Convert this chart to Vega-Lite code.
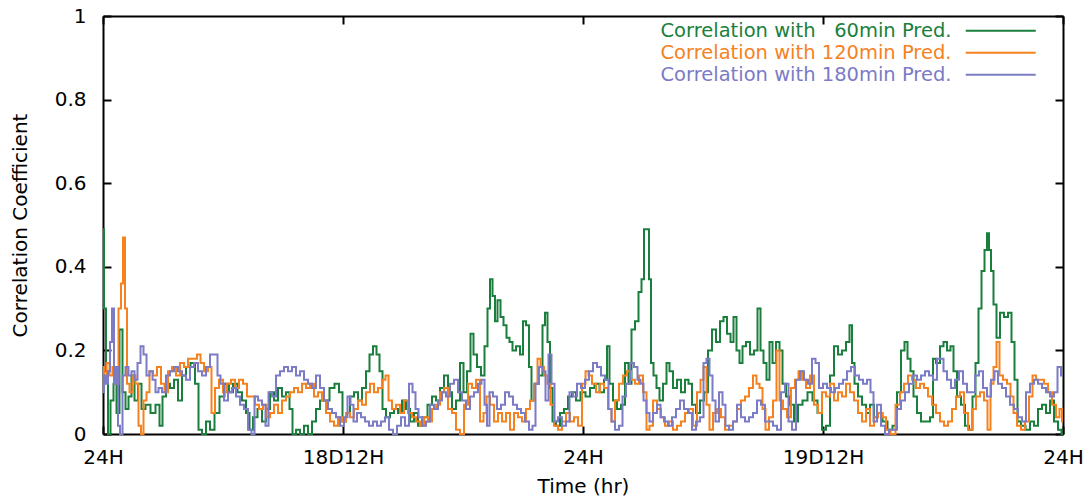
{
"$schema": "https://vega.github.io/schema/vega-lite/v6.json",
"width": 960, "height": 418,
"autosize": {"type": "none"},
"padding": {"left": 103, "top": 16, "right": 28, "bottom": 68},
"background": "white",
"config": {"view": {"stroke": null}, "font": "DejaVu Sans"},
"data": {"values": [
{"s":"a","t":0,"v":0.49},{"s":"a","t":0.1,"v":0.3},{"s":"a","t":0.2,"v":0.15},{"s":"a","t":0.3,"v":0.0},{"s":"a","t":0.45,"v":0.08},{"s":"a","t":0.6,"v":0.12},{"s":"a","t":0.75,"v":0.05},{"s":"a","t":0.9,"v":0.25},{"s":"a","t":1.05,"v":0.1},{"s":"a","t":1.2,"v":0.06},{"s":"a","t":1.35,"v":0.09},{"s":"a","t":1.5,"v":0.14},{"s":"a","t":1.65,"v":0.08},{"s":"a","t":1.85,"v":0.12},{"s":"a","t":2.0,"v":0.06},{"s":"a","t":2.25,"v":0.07},{"s":"a","t":2.5,"v":0.05},{"s":"a","t":2.75,"v":0.07},{"s":"a","t":2.9,"v":0.02},{"s":"a","t":3.05,"v":0.09},{"s":"a","t":3.25,"v":0.12},{"s":"a","t":3.45,"v":0.11},{"s":"a","t":3.65,"v":0.13},{"s":"a","t":3.85,"v":0.08},{"s":"a","t":4.05,"v":0.14},{"s":"a","t":4.25,"v":0.16},{"s":"a","t":4.5,"v":0.17},{"s":"a","t":4.7,"v":0.12},{"s":"a","t":4.85,"v":0.01},{"s":"a","t":5.05,"v":0.0},{"s":"a","t":5.25,"v":0.03},{"s":"a","t":5.45,"v":0.01},{"s":"a","t":5.7,"v":0.05},{"s":"a","t":5.95,"v":0.09},{"s":"a","t":6.2,"v":0.12},{"s":"a","t":6.4,"v":0.1},{"s":"a","t":6.6,"v":0.12},{"s":"a","t":6.85,"v":0.1},{"s":"a","t":7.05,"v":0.08},{"s":"a","t":7.25,"v":0.05},{"s":"a","t":7.4,"v":0.01},{"s":"a","t":7.6,"v":0.04},{"s":"a","t":7.85,"v":0.06},{"s":"a","t":8.05,"v":0.03},{"s":"a","t":8.25,"v":0.06},{"s":"a","t":8.45,"v":0.1},{"s":"a","t":8.65,"v":0.08},{"s":"a","t":8.85,"v":0.11},{"s":"a","t":9.05,"v":0.09},{"s":"a","t":9.25,"v":0.1},{"s":"a","t":9.4,"v":0.06},{"s":"a","t":9.55,"v":0.0},{"s":"a","t":9.75,"v":0.01},{"s":"a","t":9.95,"v":0.0},{"s":"a","t":10.15,"v":0.02},{"s":"a","t":10.35,"v":0.0},{"s":"a","t":10.55,"v":0.03},{"s":"a","t":10.75,"v":0.06},{"s":"a","t":10.95,"v":0.08},{"s":"a","t":11.2,"v":0.08},{"s":"a","t":11.45,"v":0.11},{"s":"a","t":11.7,"v":0.12},{"s":"a","t":11.9,"v":0.1},{"s":"a","t":12.05,"v":0.03},{"s":"a","t":12.25,"v":0.05},{"s":"a","t":12.45,"v":0.09},{"s":"a","t":12.65,"v":0.1},{"s":"a","t":12.85,"v":0.08},{"s":"a","t":13.05,"v":0.11},{"s":"a","t":13.25,"v":0.15},{"s":"a","t":13.4,"v":0.19},{"s":"a","t":13.6,"v":0.21},{"s":"a","t":13.75,"v":0.19},{"s":"a","t":13.9,"v":0.15},{"s":"a","t":14.05,"v":0.06},{"s":"a","t":14.25,"v":0.04},{"s":"a","t":14.45,"v":0.05},{"s":"a","t":14.65,"v":0.06},{"s":"a","t":14.85,"v":0.05},{"s":"a","t":15.05,"v":0.08},{"s":"a","t":15.25,"v":0.06},{"s":"a","t":15.45,"v":0.03},{"s":"a","t":15.65,"v":0.05},{"s":"a","t":15.85,"v":0.02},{"s":"a","t":16.1,"v":0.04},{"s":"a","t":16.35,"v":0.07},{"s":"a","t":16.55,"v":0.09},{"s":"a","t":16.75,"v":0.08},{"s":"a","t":16.95,"v":0.11},{"s":"a","t":17.15,"v":0.14},{"s":"a","t":17.35,"v":0.1},{"s":"a","t":17.55,"v":0.06},{"s":"a","t":17.75,"v":0.08},{"s":"a","t":17.95,"v":0.17},{"s":"a","t":18.1,"v":0.1},{"s":"a","t":18.3,"v":0.15},{"s":"a","t":18.45,"v":0.24},{"s":"a","t":18.6,"v":0.19},{"s":"a","t":18.8,"v":0.16},{"s":"a","t":19.0,"v":0.14},{"s":"a","t":19.15,"v":0.21},{"s":"a","t":19.3,"v":0.3},{"s":"a","t":19.4,"v":0.37},{"s":"a","t":19.55,"v":0.33},{"s":"a","t":19.65,"v":0.27},{"s":"a","t":19.8,"v":0.32},{"s":"a","t":19.95,"v":0.28},{"s":"a","t":20.1,"v":0.26},{"s":"a","t":20.25,"v":0.23},{"s":"a","t":20.4,"v":0.22},{"s":"a","t":20.55,"v":0.2},{"s":"a","t":20.75,"v":0.21},{"s":"a","t":20.95,"v":0.19},{"s":"a","t":21.05,"v":0.27},{"s":"a","t":21.25,"v":0.26},{"s":"a","t":21.35,"v":0.16},{"s":"a","t":21.5,"v":0.08},{"s":"a","t":21.7,"v":0.12},{"s":"a","t":21.9,"v":0.14},{"s":"a","t":22.05,"v":0.26},{"s":"a","t":22.15,"v":0.29},{"s":"a","t":22.3,"v":0.22},{"s":"a","t":22.4,"v":0.11},{"s":"a","t":22.55,"v":0.03},{"s":"a","t":22.75,"v":0.02},{"s":"a","t":22.95,"v":0.05},{"s":"a","t":23.15,"v":0.06},{"s":"a","t":23.35,"v":0.09},{"s":"a","t":23.55,"v":0.1},{"s":"a","t":23.75,"v":0.08},{"s":"a","t":24.0,"v":0.1},{"s":"a","t":24.25,"v":0.09},{"s":"a","t":24.45,"v":0.11},{"s":"a","t":24.7,"v":0.12},{"s":"a","t":24.95,"v":0.1},{"s":"a","t":25.15,"v":0.13},{"s":"a","t":25.25,"v":0.21},{"s":"a","t":25.4,"v":0.12},{"s":"a","t":25.6,"v":0.08},{"s":"a","t":25.8,"v":0.06},{"s":"a","t":26.0,"v":0.07},{"s":"a","t":26.2,"v":0.17},{"s":"a","t":26.35,"v":0.12},{"s":"a","t":26.5,"v":0.25},{"s":"a","t":26.7,"v":0.27},{"s":"a","t":26.85,"v":0.34},{"s":"a","t":27.0,"v":0.37},{"s":"a","t":27.1,"v":0.49},{"s":"a","t":27.25,"v":0.49},{"s":"a","t":27.35,"v":0.37},{"s":"a","t":27.45,"v":0.17},{"s":"a","t":27.6,"v":0.14},{"s":"a","t":27.75,"v":0.11},{"s":"a","t":27.9,"v":0.08},{"s":"a","t":28.1,"v":0.12},{"s":"a","t":28.25,"v":0.17},{"s":"a","t":28.4,"v":0.15},{"s":"a","t":28.6,"v":0.11},{"s":"a","t":28.8,"v":0.13},{"s":"a","t":29.0,"v":0.1},{"s":"a","t":29.2,"v":0.13},{"s":"a","t":29.35,"v":0.12},{"s":"a","t":29.55,"v":0.07},{"s":"a","t":29.75,"v":0.05},{"s":"a","t":29.95,"v":0.08},{"s":"a","t":30.15,"v":0.1},{"s":"a","t":30.35,"v":0.2},{"s":"a","t":30.55,"v":0.25},{"s":"a","t":30.75,"v":0.22},{"s":"a","t":30.95,"v":0.27},{"s":"a","t":31.1,"v":0.28},{"s":"a","t":31.3,"v":0.24},{"s":"a","t":31.45,"v":0.22},{"s":"a","t":31.6,"v":0.28},{"s":"a","t":31.75,"v":0.2},{"s":"a","t":31.9,"v":0.17},{"s":"a","t":32.05,"v":0.21},{"s":"a","t":32.25,"v":0.22},{"s":"a","t":32.45,"v":0.19},{"s":"a","t":32.65,"v":0.2},{"s":"a","t":32.8,"v":0.3},{"s":"a","t":32.95,"v":0.2},{"s":"a","t":33.1,"v":0.17},{"s":"a","t":33.25,"v":0.13},{"s":"a","t":33.4,"v":0.22},{"s":"a","t":33.55,"v":0.17},{"s":"a","t":33.75,"v":0.22},{"s":"a","t":33.9,"v":0.2},{"s":"a","t":34.05,"v":0.12},{"s":"a","t":34.25,"v":0.09},{"s":"a","t":34.45,"v":0.07},{"s":"a","t":34.65,"v":0.03},{"s":"a","t":34.85,"v":0.07},{"s":"a","t":35.1,"v":0.08},{"s":"a","t":35.35,"v":0.1},{"s":"a","t":35.6,"v":0.08},{"s":"a","t":35.85,"v":0.05},{"s":"a","t":36.05,"v":0.01},{"s":"a","t":36.25,"v":0.02},{"s":"a","t":36.45,"v":0.14},{"s":"a","t":36.65,"v":0.21},{"s":"a","t":36.85,"v":0.19},{"s":"a","t":37.05,"v":0.2},{"s":"a","t":37.25,"v":0.22},{"s":"a","t":37.4,"v":0.26},{"s":"a","t":37.5,"v":0.17},{"s":"a","t":37.65,"v":0.12},{"s":"a","t":37.85,"v":0.09},{"s":"a","t":38.05,"v":0.07},{"s":"a","t":38.25,"v":0.05},{"s":"a","t":38.45,"v":0.07},{"s":"a","t":38.65,"v":0.04},{"s":"a","t":38.85,"v":0.05},{"s":"a","t":39.1,"v":0.03},{"s":"a","t":39.35,"v":0.01},{"s":"a","t":39.6,"v":0.02},{"s":"a","t":39.8,"v":0.1},{"s":"a","t":40.0,"v":0.2},{"s":"a","t":40.15,"v":0.22},{"s":"a","t":40.3,"v":0.18},{"s":"a","t":40.45,"v":0.15},{"s":"a","t":40.6,"v":0.09},{"s":"a","t":40.8,"v":0.05},{"s":"a","t":41.0,"v":0.03},{"s":"a","t":41.25,"v":0.03},{"s":"a","t":41.45,"v":0.04},{"s":"a","t":41.55,"v":0.18},{"s":"a","t":41.75,"v":0.17},{"s":"a","t":41.95,"v":0.21},{"s":"a","t":42.1,"v":0.22},{"s":"a","t":42.3,"v":0.2},{"s":"a","t":42.45,"v":0.21},{"s":"a","t":42.6,"v":0.15},{"s":"a","t":42.8,"v":0.09},{"s":"a","t":43.0,"v":0.07},{"s":"a","t":43.2,"v":0.02},{"s":"a","t":43.4,"v":0.01},{"s":"a","t":43.55,"v":0.09},{"s":"a","t":43.7,"v":0.17},{"s":"a","t":43.85,"v":0.3},{"s":"a","t":44.0,"v":0.39},{"s":"a","t":44.15,"v":0.44},{"s":"a","t":44.25,"v":0.48},{"s":"a","t":44.35,"v":0.44},{"s":"a","t":44.45,"v":0.39},{"s":"a","t":44.6,"v":0.31},{"s":"a","t":44.75,"v":0.23},{"s":"a","t":44.95,"v":0.29},{"s":"a","t":45.15,"v":0.28},{"s":"a","t":45.35,"v":0.29},{"s":"a","t":45.5,"v":0.22},{"s":"a","t":45.65,"v":0.13},{"s":"a","t":45.8,"v":0.03},{"s":"a","t":46.0,"v":0.02},{"s":"a","t":46.25,"v":0.01},{"s":"a","t":46.45,"v":0.03},{"s":"a","t":46.65,"v":0.02},{"s":"a","t":46.85,"v":0.06},{"s":"a","t":47.05,"v":0.07},{"s":"a","t":47.25,"v":0.05},{"s":"a","t":47.45,"v":0.08},{"s":"a","t":47.65,"v":0.03},{"s":"a","t":47.85,"v":0.01},{"s":"a","t":48.0,"v":0.0},
{"s":"b","t":0,"v":0.16},{"s":"b","t":0.1,"v":0.13},{"s":"b","t":0.25,"v":0.17},{"s":"b","t":0.4,"v":0.14},{"s":"b","t":0.55,"v":0.16},{"s":"b","t":0.7,"v":0.12},{"s":"b","t":0.85,"v":0.3},{"s":"b","t":0.95,"v":0.36},{"s":"b","t":1.05,"v":0.47},{"s":"b","t":1.15,"v":0.3},{"s":"b","t":1.25,"v":0.12},{"s":"b","t":1.4,"v":0.1},{"s":"b","t":1.55,"v":0.14},{"s":"b","t":1.7,"v":0.12},{"s":"b","t":1.85,"v":0.02},{"s":"b","t":1.95,"v":0.0},{"s":"b","t":2.1,"v":0.08},{"s":"b","t":2.25,"v":0.1},{"s":"b","t":2.4,"v":0.15},{"s":"b","t":2.6,"v":0.14},{"s":"b","t":2.8,"v":0.16},{"s":"b","t":3.0,"v":0.12},{"s":"b","t":3.15,"v":0.1},{"s":"b","t":3.35,"v":0.15},{"s":"b","t":3.55,"v":0.16},{"s":"b","t":3.75,"v":0.14},{"s":"b","t":3.95,"v":0.17},{"s":"b","t":4.15,"v":0.16},{"s":"b","t":4.35,"v":0.18},{"s":"b","t":4.6,"v":0.18},{"s":"b","t":4.8,"v":0.19},{"s":"b","t":4.95,"v":0.17},{"s":"b","t":5.15,"v":0.15},{"s":"b","t":5.35,"v":0.16},{"s":"b","t":5.5,"v":0.05},{"s":"b","t":5.7,"v":0.11},{"s":"b","t":5.9,"v":0.13},{"s":"b","t":6.1,"v":0.1},{"s":"b","t":6.3,"v":0.12},{"s":"b","t":6.5,"v":0.13},{"s":"b","t":6.7,"v":0.11},{"s":"b","t":6.9,"v":0.13},{"s":"b","t":7.1,"v":0.12},{"s":"b","t":7.3,"v":0.09},{"s":"b","t":7.5,"v":0.09},{"s":"b","t":7.7,"v":0.07},{"s":"b","t":7.9,"v":0.06},{"s":"b","t":8.1,"v":0.07},{"s":"b","t":8.25,"v":0.04},{"s":"b","t":8.45,"v":0.05},{"s":"b","t":8.65,"v":0.07},{"s":"b","t":8.85,"v":0.05},{"s":"b","t":9.05,"v":0.08},{"s":"b","t":9.25,"v":0.09},{"s":"b","t":9.45,"v":0.1},{"s":"b","t":9.65,"v":0.11},{"s":"b","t":9.85,"v":0.1},{"s":"b","t":10.05,"v":0.12},{"s":"b","t":10.25,"v":0.11},{"s":"b","t":10.45,"v":0.12},{"s":"b","t":10.65,"v":0.09},{"s":"b","t":10.85,"v":0.1},{"s":"b","t":11.05,"v":0.08},{"s":"b","t":11.25,"v":0.05},{"s":"b","t":11.45,"v":0.03},{"s":"b","t":11.65,"v":0.02},{"s":"b","t":11.85,"v":0.04},{"s":"b","t":12.05,"v":0.03},{"s":"b","t":12.25,"v":0.05},{"s":"b","t":12.45,"v":0.04},{"s":"b","t":12.65,"v":0.06},{"s":"b","t":12.85,"v":0.08},{"s":"b","t":13.05,"v":0.07},{"s":"b","t":13.25,"v":0.1},{"s":"b","t":13.45,"v":0.12},{"s":"b","t":13.65,"v":0.1},{"s":"b","t":13.85,"v":0.11},{"s":"b","t":14.05,"v":0.13},{"s":"b","t":14.2,"v":0.14},{"s":"b","t":14.35,"v":0.08},{"s":"b","t":14.55,"v":0.06},{"s":"b","t":14.75,"v":0.07},{"s":"b","t":14.95,"v":0.05},{"s":"b","t":15.15,"v":0.08},{"s":"b","t":15.35,"v":0.05},{"s":"b","t":15.55,"v":0.04},{"s":"b","t":15.75,"v":0.03},{"s":"b","t":15.95,"v":0.02},{"s":"b","t":16.15,"v":0.04},{"s":"b","t":16.35,"v":0.03},{"s":"b","t":16.55,"v":0.06},{"s":"b","t":16.75,"v":0.07},{"s":"b","t":16.95,"v":0.1},{"s":"b","t":17.15,"v":0.11},{"s":"b","t":17.35,"v":0.06},{"s":"b","t":17.55,"v":0.05},{"s":"b","t":17.75,"v":0.01},{"s":"b","t":17.95,"v":0.0},{"s":"b","t":18.15,"v":0.07},{"s":"b","t":18.35,"v":0.12},{"s":"b","t":18.55,"v":0.11},{"s":"b","t":18.75,"v":0.13},{"s":"b","t":18.95,"v":0.03},{"s":"b","t":19.1,"v":0.05},{"s":"b","t":19.25,"v":0.09},{"s":"b","t":19.45,"v":0.07},{"s":"b","t":19.65,"v":0.03},{"s":"b","t":19.85,"v":0.05},{"s":"b","t":20.05,"v":0.03},{"s":"b","t":20.25,"v":0.05},{"s":"b","t":20.45,"v":0.01},{"s":"b","t":20.65,"v":0.05},{"s":"b","t":20.85,"v":0.04},{"s":"b","t":21.05,"v":0.03},{"s":"b","t":21.25,"v":0.06},{"s":"b","t":21.45,"v":0.08},{"s":"b","t":21.65,"v":0.12},{"s":"b","t":21.8,"v":0.18},{"s":"b","t":21.95,"v":0.16},{"s":"b","t":22.15,"v":0.14},{"s":"b","t":22.3,"v":0.12},{"s":"b","t":22.45,"v":0.07},{"s":"b","t":22.65,"v":0.02},{"s":"b","t":22.85,"v":0.01},{"s":"b","t":23.05,"v":0.03},{"s":"b","t":23.25,"v":0.05},{"s":"b","t":23.45,"v":0.03},{"s":"b","t":23.65,"v":0.04},{"s":"b","t":23.85,"v":0.02},{"s":"b","t":24.05,"v":0.12},{"s":"b","t":24.2,"v":0.15},{"s":"b","t":24.35,"v":0.14},{"s":"b","t":24.55,"v":0.12},{"s":"b","t":24.75,"v":0.1},{"s":"b","t":24.95,"v":0.12},{"s":"b","t":25.15,"v":0.11},{"s":"b","t":25.35,"v":0.06},{"s":"b","t":25.5,"v":0.03},{"s":"b","t":25.7,"v":0.08},{"s":"b","t":25.9,"v":0.12},{"s":"b","t":26.1,"v":0.14},{"s":"b","t":26.3,"v":0.15},{"s":"b","t":26.5,"v":0.13},{"s":"b","t":26.7,"v":0.12},{"s":"b","t":26.9,"v":0.14},{"s":"b","t":27.1,"v":0.1},{"s":"b","t":27.25,"v":0.01},{"s":"b","t":27.4,"v":0.02},{"s":"b","t":27.6,"v":0.08},{"s":"b","t":27.8,"v":0.06},{"s":"b","t":28.0,"v":0.04},{"s":"b","t":28.2,"v":0.02},{"s":"b","t":28.4,"v":0.03},{"s":"b","t":28.6,"v":0.01},{"s":"b","t":28.8,"v":0.02},{"s":"b","t":29.0,"v":0.03},{"s":"b","t":29.2,"v":0.05},{"s":"b","t":29.4,"v":0.06},{"s":"b","t":29.6,"v":0.02},{"s":"b","t":29.8,"v":0.1},{"s":"b","t":29.95,"v":0.13},{"s":"b","t":30.1,"v":0.16},{"s":"b","t":30.25,"v":0.07},{"s":"b","t":30.4,"v":0.01},{"s":"b","t":30.6,"v":0.05},{"s":"b","t":30.8,"v":0.06},{"s":"b","t":31.0,"v":0.04},{"s":"b","t":31.2,"v":0.01},{"s":"b","t":31.4,"v":0.02},{"s":"b","t":31.6,"v":0.03},{"s":"b","t":31.8,"v":0.06},{"s":"b","t":32.0,"v":0.08},{"s":"b","t":32.2,"v":0.09},{"s":"b","t":32.4,"v":0.11},{"s":"b","t":32.6,"v":0.14},{"s":"b","t":32.75,"v":0.12},{"s":"b","t":32.9,"v":0.11},{"s":"b","t":33.05,"v":0.06},{"s":"b","t":33.2,"v":0.01},{"s":"b","t":33.4,"v":0.04},{"s":"b","t":33.6,"v":0.08},{"s":"b","t":33.75,"v":0.2},{"s":"b","t":33.9,"v":0.08},{"s":"b","t":34.1,"v":0.06},{"s":"b","t":34.3,"v":0.04},{"s":"b","t":34.5,"v":0.11},{"s":"b","t":34.7,"v":0.13},{"s":"b","t":34.85,"v":0.15},{"s":"b","t":35.05,"v":0.13},{"s":"b","t":35.25,"v":0.11},{"s":"b","t":35.45,"v":0.14},{"s":"b","t":35.65,"v":0.07},{"s":"b","t":35.85,"v":0.05},{"s":"b","t":36.05,"v":0.1},{"s":"b","t":36.25,"v":0.09},{"s":"b","t":36.45,"v":0.12},{"s":"b","t":36.65,"v":0.08},{"s":"b","t":36.85,"v":0.1},{"s":"b","t":37.05,"v":0.09},{"s":"b","t":37.25,"v":0.12},{"s":"b","t":37.45,"v":0.1},{"s":"b","t":37.65,"v":0.08},{"s":"b","t":37.85,"v":0.05},{"s":"b","t":38.05,"v":0.03},{"s":"b","t":38.25,"v":0.06},{"s":"b","t":38.45,"v":0.02},{"s":"b","t":38.65,"v":0.04},{"s":"b","t":38.85,"v":0.05},{"s":"b","t":39.05,"v":0.04},{"s":"b","t":39.25,"v":0.01},{"s":"b","t":39.5,"v":0.0},{"s":"b","t":39.75,"v":0.07},{"s":"b","t":39.95,"v":0.1},{"s":"b","t":40.15,"v":0.12},{"s":"b","t":40.35,"v":0.14},{"s":"b","t":40.55,"v":0.13},{"s":"b","t":40.75,"v":0.11},{"s":"b","t":40.95,"v":0.12},{"s":"b","t":41.15,"v":0.11},{"s":"b","t":41.35,"v":0.09},{"s":"b","t":41.55,"v":0.07},{"s":"b","t":41.75,"v":0.05},{"s":"b","t":41.95,"v":0.03},{"s":"b","t":42.15,"v":0.02},{"s":"b","t":42.35,"v":0.03},{"s":"b","t":42.55,"v":0.06},{"s":"b","t":42.75,"v":0.09},{"s":"b","t":42.95,"v":0.1},{"s":"b","t":43.15,"v":0.05},{"s":"b","t":43.35,"v":0.01},{"s":"b","t":43.55,"v":0.06},{"s":"b","t":43.75,"v":0.09},{"s":"b","t":43.95,"v":0.1},{"s":"b","t":44.15,"v":0.08},{"s":"b","t":44.3,"v":0.01},{"s":"b","t":44.45,"v":0.12},{"s":"b","t":44.6,"v":0.16},{"s":"b","t":44.75,"v":0.22},{"s":"b","t":44.9,"v":0.14},{"s":"b","t":45.1,"v":0.13},{"s":"b","t":45.3,"v":0.12},{"s":"b","t":45.45,"v":0.09},{"s":"b","t":45.6,"v":0.05},{"s":"b","t":45.8,"v":0.02},{"s":"b","t":46.0,"v":0.01},{"s":"b","t":46.2,"v":0.03},{"s":"b","t":46.4,"v":0.09},{"s":"b","t":46.55,"v":0.14},{"s":"b","t":46.75,"v":0.13},{"s":"b","t":46.95,"v":0.13},{"s":"b","t":47.15,"v":0.12},{"s":"b","t":47.35,"v":0.1},{"s":"b","t":47.55,"v":0.07},{"s":"b","t":47.75,"v":0.04},{"s":"b","t":47.9,"v":0.06},{"s":"b","t":48.0,"v":0.03},
{"s":"c","t":0,"v":0.1},{"s":"c","t":0.1,"v":0.14},{"s":"c","t":0.2,"v":0.12},{"s":"c","t":0.3,"v":0.15},{"s":"c","t":0.4,"v":0.22},{"s":"c","t":0.5,"v":0.3},{"s":"c","t":0.6,"v":0.12},{"s":"c","t":0.7,"v":0.16},{"s":"c","t":0.8,"v":0.02},{"s":"c","t":0.9,"v":0.0},{"s":"c","t":1.05,"v":0.14},{"s":"c","t":1.2,"v":0.16},{"s":"c","t":1.35,"v":0.14},{"s":"c","t":1.5,"v":0.15},{"s":"c","t":1.65,"v":0.13},{"s":"c","t":1.8,"v":0.17},{"s":"c","t":1.95,"v":0.21},{"s":"c","t":2.1,"v":0.19},{"s":"c","t":2.25,"v":0.14},{"s":"c","t":2.4,"v":0.15},{"s":"c","t":2.55,"v":0.13},{"s":"c","t":2.7,"v":0.1},{"s":"c","t":2.85,"v":0.11},{"s":"c","t":3.05,"v":0.1},{"s":"c","t":3.25,"v":0.14},{"s":"c","t":3.45,"v":0.15},{"s":"c","t":3.65,"v":0.16},{"s":"c","t":3.85,"v":0.15},{"s":"c","t":4.05,"v":0.14},{"s":"c","t":4.25,"v":0.13},{"s":"c","t":4.45,"v":0.16},{"s":"c","t":4.65,"v":0.17},{"s":"c","t":4.85,"v":0.15},{"s":"c","t":5.05,"v":0.14},{"s":"c","t":5.25,"v":0.16},{"s":"c","t":5.45,"v":0.19},{"s":"c","t":5.65,"v":0.19},{"s":"c","t":5.8,"v":0.14},{"s":"c","t":5.95,"v":0.12},{"s":"c","t":6.15,"v":0.08},{"s":"c","t":6.35,"v":0.1},{"s":"c","t":6.55,"v":0.11},{"s":"c","t":6.75,"v":0.09},{"s":"c","t":6.95,"v":0.07},{"s":"c","t":7.15,"v":0.06},{"s":"c","t":7.35,"v":0.01},{"s":"c","t":7.5,"v":0.0},{"s":"c","t":7.65,"v":0.09},{"s":"c","t":7.85,"v":0.08},{"s":"c","t":8.05,"v":0.07},{"s":"c","t":8.2,"v":0.02},{"s":"c","t":8.35,"v":0.1},{"s":"c","t":8.55,"v":0.09},{"s":"c","t":8.75,"v":0.14},{"s":"c","t":8.95,"v":0.15},{"s":"c","t":9.15,"v":0.16},{"s":"c","t":9.35,"v":0.15},{"s":"c","t":9.55,"v":0.16},{"s":"c","t":9.75,"v":0.14},{"s":"c","t":9.95,"v":0.15},{"s":"c","t":10.15,"v":0.13},{"s":"c","t":10.35,"v":0.12},{"s":"c","t":10.55,"v":0.11},{"s":"c","t":10.75,"v":0.14},{"s":"c","t":10.95,"v":0.11},{"s":"c","t":11.15,"v":0.08},{"s":"c","t":11.35,"v":0.06},{"s":"c","t":11.55,"v":0.05},{"s":"c","t":11.75,"v":0.04},{"s":"c","t":11.95,"v":0.02},{"s":"c","t":12.15,"v":0.04},{"s":"c","t":12.3,"v":0.09},{"s":"c","t":12.45,"v":0.07},{"s":"c","t":12.6,"v":0.03},{"s":"c","t":12.8,"v":0.05},{"s":"c","t":13.0,"v":0.04},{"s":"c","t":13.2,"v":0.03},{"s":"c","t":13.4,"v":0.02},{"s":"c","t":13.6,"v":0.03},{"s":"c","t":13.8,"v":0.02},{"s":"c","t":14.0,"v":0.03},{"s":"c","t":14.2,"v":0.04},{"s":"c","t":14.4,"v":0.01},{"s":"c","t":14.6,"v":0.0},{"s":"c","t":14.8,"v":0.02},{"s":"c","t":15.0,"v":0.04},{"s":"c","t":15.2,"v":0.02},{"s":"c","t":15.4,"v":0.12},{"s":"c","t":15.55,"v":0.1},{"s":"c","t":15.7,"v":0.06},{"s":"c","t":15.85,"v":0.04},{"s":"c","t":16.05,"v":0.02},{"s":"c","t":16.25,"v":0.03},{"s":"c","t":16.45,"v":0.07},{"s":"c","t":16.65,"v":0.06},{"s":"c","t":16.85,"v":0.08},{"s":"c","t":17.05,"v":0.1},{"s":"c","t":17.25,"v":0.09},{"s":"c","t":17.45,"v":0.12},{"s":"c","t":17.65,"v":0.13},{"s":"c","t":17.85,"v":0.1},{"s":"c","t":18.05,"v":0.08},{"s":"c","t":18.25,"v":0.06},{"s":"c","t":18.45,"v":0.09},{"s":"c","t":18.65,"v":0.1},{"s":"c","t":18.85,"v":0.12},{"s":"c","t":19.0,"v":0.13},{"s":"c","t":19.15,"v":0.07},{"s":"c","t":19.25,"v":0.02},{"s":"c","t":19.4,"v":0.1},{"s":"c","t":19.6,"v":0.09},{"s":"c","t":19.8,"v":0.06},{"s":"c","t":20.0,"v":0.07},{"s":"c","t":20.2,"v":0.1},{"s":"c","t":20.4,"v":0.09},{"s":"c","t":20.6,"v":0.07},{"s":"c","t":20.8,"v":0.06},{"s":"c","t":21.0,"v":0.05},{"s":"c","t":21.2,"v":0.03},{"s":"c","t":21.4,"v":0.01},{"s":"c","t":21.55,"v":0.02},{"s":"c","t":21.7,"v":0.12},{"s":"c","t":21.9,"v":0.16},{"s":"c","t":22.05,"v":0.15},{"s":"c","t":22.2,"v":0.08},{"s":"c","t":22.35,"v":0.19},{"s":"c","t":22.5,"v":0.12},{"s":"c","t":22.65,"v":0.03},{"s":"c","t":22.85,"v":0.04},{"s":"c","t":23.05,"v":0.02},{"s":"c","t":23.25,"v":0.03},{"s":"c","t":23.4,"v":0.1},{"s":"c","t":23.6,"v":0.09},{"s":"c","t":23.8,"v":0.12},{"s":"c","t":24.0,"v":0.11},{"s":"c","t":24.2,"v":0.13},{"s":"c","t":24.4,"v":0.15},{"s":"c","t":24.6,"v":0.17},{"s":"c","t":24.8,"v":0.16},{"s":"c","t":25.0,"v":0.14},{"s":"c","t":25.2,"v":0.13},{"s":"c","t":25.35,"v":0.06},{"s":"c","t":25.5,"v":0.03},{"s":"c","t":25.7,"v":0.01},{"s":"c","t":25.9,"v":0.02},{"s":"c","t":26.05,"v":0.09},{"s":"c","t":26.25,"v":0.12},{"s":"c","t":26.45,"v":0.17},{"s":"c","t":26.65,"v":0.16},{"s":"c","t":26.8,"v":0.13},{"s":"c","t":26.95,"v":0.12},{"s":"c","t":27.1,"v":0.08},{"s":"c","t":27.25,"v":0.05},{"s":"c","t":27.4,"v":0.03},{"s":"c","t":27.6,"v":0.05},{"s":"c","t":27.8,"v":0.07},{"s":"c","t":27.95,"v":0.04},{"s":"c","t":28.15,"v":0.03},{"s":"c","t":28.35,"v":0.02},{"s":"c","t":28.55,"v":0.04},{"s":"c","t":28.75,"v":0.06},{"s":"c","t":28.95,"v":0.08},{"s":"c","t":29.15,"v":0.06},{"s":"c","t":29.35,"v":0.05},{"s":"c","t":29.55,"v":0.01},{"s":"c","t":29.75,"v":0.03},{"s":"c","t":29.95,"v":0.04},{"s":"c","t":30.1,"v":0.17},{"s":"c","t":30.25,"v":0.18},{"s":"c","t":30.4,"v":0.14},{"s":"c","t":30.55,"v":0.08},{"s":"c","t":30.7,"v":0.03},{"s":"c","t":30.9,"v":0.1},{"s":"c","t":31.05,"v":0.07},{"s":"c","t":31.2,"v":0.02},{"s":"c","t":31.4,"v":0.01},{"s":"c","t":31.6,"v":0.03},{"s":"c","t":31.8,"v":0.07},{"s":"c","t":32.0,"v":0.04},{"s":"c","t":32.2,"v":0.03},{"s":"c","t":32.4,"v":0.04},{"s":"c","t":32.6,"v":0.05},{"s":"c","t":32.8,"v":0.08},{"s":"c","t":33.0,"v":0.07},{"s":"c","t":33.2,"v":0.03},{"s":"c","t":33.4,"v":0.03},{"s":"c","t":33.6,"v":0.02},{"s":"c","t":33.8,"v":0.01},{"s":"c","t":34.0,"v":0.1},{"s":"c","t":34.2,"v":0.12},{"s":"c","t":34.35,"v":0.03},{"s":"c","t":34.55,"v":0.01},{"s":"c","t":34.75,"v":0.13},{"s":"c","t":34.95,"v":0.15},{"s":"c","t":35.15,"v":0.13},{"s":"c","t":35.35,"v":0.12},{"s":"c","t":35.55,"v":0.18},{"s":"c","t":35.7,"v":0.17},{"s":"c","t":35.9,"v":0.11},{"s":"c","t":36.1,"v":0.12},{"s":"c","t":36.3,"v":0.11},{"s":"c","t":36.5,"v":0.1},{"s":"c","t":36.7,"v":0.11},{"s":"c","t":36.9,"v":0.12},{"s":"c","t":37.1,"v":0.13},{"s":"c","t":37.3,"v":0.15},{"s":"c","t":37.5,"v":0.16},{"s":"c","t":37.7,"v":0.14},{"s":"c","t":37.9,"v":0.13},{"s":"c","t":38.1,"v":0.12},{"s":"c","t":38.3,"v":0.13},{"s":"c","t":38.45,"v":0.1},{"s":"c","t":38.6,"v":0.03},{"s":"c","t":38.8,"v":0.07},{"s":"c","t":39.0,"v":0.02},{"s":"c","t":39.2,"v":0.0},{"s":"c","t":39.4,"v":0.01},{"s":"c","t":39.6,"v":0.01},{"s":"c","t":39.8,"v":0.06},{"s":"c","t":40.0,"v":0.08},{"s":"c","t":40.2,"v":0.1},{"s":"c","t":40.4,"v":0.12},{"s":"c","t":40.6,"v":0.14},{"s":"c","t":40.8,"v":0.13},{"s":"c","t":41.0,"v":0.14},{"s":"c","t":41.2,"v":0.15},{"s":"c","t":41.4,"v":0.14},{"s":"c","t":41.6,"v":0.13},{"s":"c","t":41.8,"v":0.18},{"s":"c","t":41.95,"v":0.18},{"s":"c","t":42.1,"v":0.15},{"s":"c","t":42.3,"v":0.13},{"s":"c","t":42.5,"v":0.11},{"s":"c","t":42.7,"v":0.13},{"s":"c","t":42.9,"v":0.15},{"s":"c","t":43.1,"v":0.12},{"s":"c","t":43.3,"v":0.1},{"s":"c","t":43.5,"v":0.1},{"s":"c","t":43.7,"v":0.14},{"s":"c","t":43.9,"v":0.15},{"s":"c","t":44.1,"v":0.11},{"s":"c","t":44.3,"v":0.09},{"s":"c","t":44.5,"v":0.13},{"s":"c","t":44.65,"v":0.15},{"s":"c","t":44.85,"v":0.12},{"s":"c","t":45.05,"v":0.11},{"s":"c","t":45.25,"v":0.09},{"s":"c","t":45.45,"v":0.07},{"s":"c","t":45.65,"v":0.06},{"s":"c","t":45.85,"v":0.04},{"s":"c","t":46.05,"v":0.03},{"s":"c","t":46.25,"v":0.1},{"s":"c","t":46.45,"v":0.12},{"s":"c","t":46.65,"v":0.13},{"s":"c","t":46.85,"v":0.12},{"s":"c","t":47.05,"v":0.11},{"s":"c","t":47.25,"v":0.1},{"s":"c","t":47.45,"v":0.09},{"s":"c","t":47.65,"v":0.1},{"s":"c","t":47.8,"v":0.16},{"s":"c","t":48.0,"v":0.14}
]},
"layer": [
{
"mark": {"type": "line", "interpolate": "step", "strokeWidth": 2},
"encoding": {
"x": {"field": "t", "type": "quantitative", "scale": {"domain": [0, 48], "nice": false, "zero": false},
 "axis": {"orient": "bottom", "values": [0, 12, 24, 36, 48], "labelExpr": "datum.value == 12 ? '18D12H' : datum.value == 36 ? '19D12H' : '24H'", "title": "Time (hr)", "grid": false, "domainColor": "black", "domainWidth": 2, "tickColor": "black", "tickWidth": 2, "tickSize": -8, "labelPadding": 21, "labelFontSize": 20, "labelFont": "DejaVu Sans", "labelColor": "black", "labelFlush": false, "titleFont": "DejaVu Sans", "titleFontSize": 20, "titleFontWeight": "normal", "titleColor": "black", "titlePadding": 9}},
"y": {"field": "v", "type": "quantitative", "scale": {"domain": [0, 1], "nice": false},
 "axis": {"orient": "left", "values": [0, 0.2, 0.4, 0.6, 0.8, 1], "format": ".1~f", "title": "Correlation Coefficient", "grid": false, "domainColor": "black", "domainWidth": 2, "tickColor": "black", "tickWidth": 2, "tickSize": -8, "labelPadding": 25, "labelFontSize": 20, "labelFont": "DejaVu Sans", "labelColor": "black", "labelFlush": false, "titleFont": "DejaVu Sans", "titleFontSize": 20, "titleFontWeight": "normal", "titleColor": "black", "titlePadding": 24}},
"color": {"field": "s", "type": "nominal", "scale": {"domain": ["a", "b", "c"], "range": ["#1a7f3c", "#f5821f", "#7b7bc6"]},
 "legend": {"orient": "none", "legendX": 888, "legendY": 5, "title": null, "padding": 0, "symbolType": "M-5,0H5", "symbolSize": 196, "symbolStrokeWidth": 2, "symbolFillColor": "transparent", "labelAlign": "right", "labelOffset": -59, "labelFontSize": 19.5, "labelFont": "DejaVu Sans", "labelLimit": 500, "rowPadding": 1,
  "labelExpr": "datum.value == 'a' ? 'Correlation with\u00a0\u00a0 60min Pred.' : datum.value == 'b' ? 'Correlation with 120min Pred.' : 'Correlation with 180min Pred.'",
  "encoding": {"labels": {"fill": {"condition": [{"test": "datum.value == 'a'", "value": "#1a7f3c"}, {"test": "datum.value == 'b'", "value": "#f5821f"}], "value": "#7b7bc6"}}}}}
}
},
{
"transform": [{"filter": "false"}],
"mark": {"type": "line"},
"encoding": {
"x": {"field": "t", "type": "quantitative", "scale": {"domain": [0, 48], "nice": false, "zero": false},
 "axis": {"orient": "top", "values": [0, 12, 24, 36, 48], "labels": false, "title": null, "grid": false, "domainColor": "black", "domainWidth": 2, "tickColor": "black", "tickWidth": 2, "tickSize": -8}},
"y": {"field": "v", "type": "quantitative", "scale": {"domain": [0, 1], "nice": false},
 "axis": {"orient": "right", "values": [0, 0.2, 0.4, 0.6, 0.8, 1], "labels": false, "title": null, "grid": false, "domainColor": "black", "domainWidth": 2, "tickColor": "black", "tickWidth": 2, "tickSize": -8}}
}
}
],
"resolve": {"axis": {"x": "independent", "y": "independent"}}
}
